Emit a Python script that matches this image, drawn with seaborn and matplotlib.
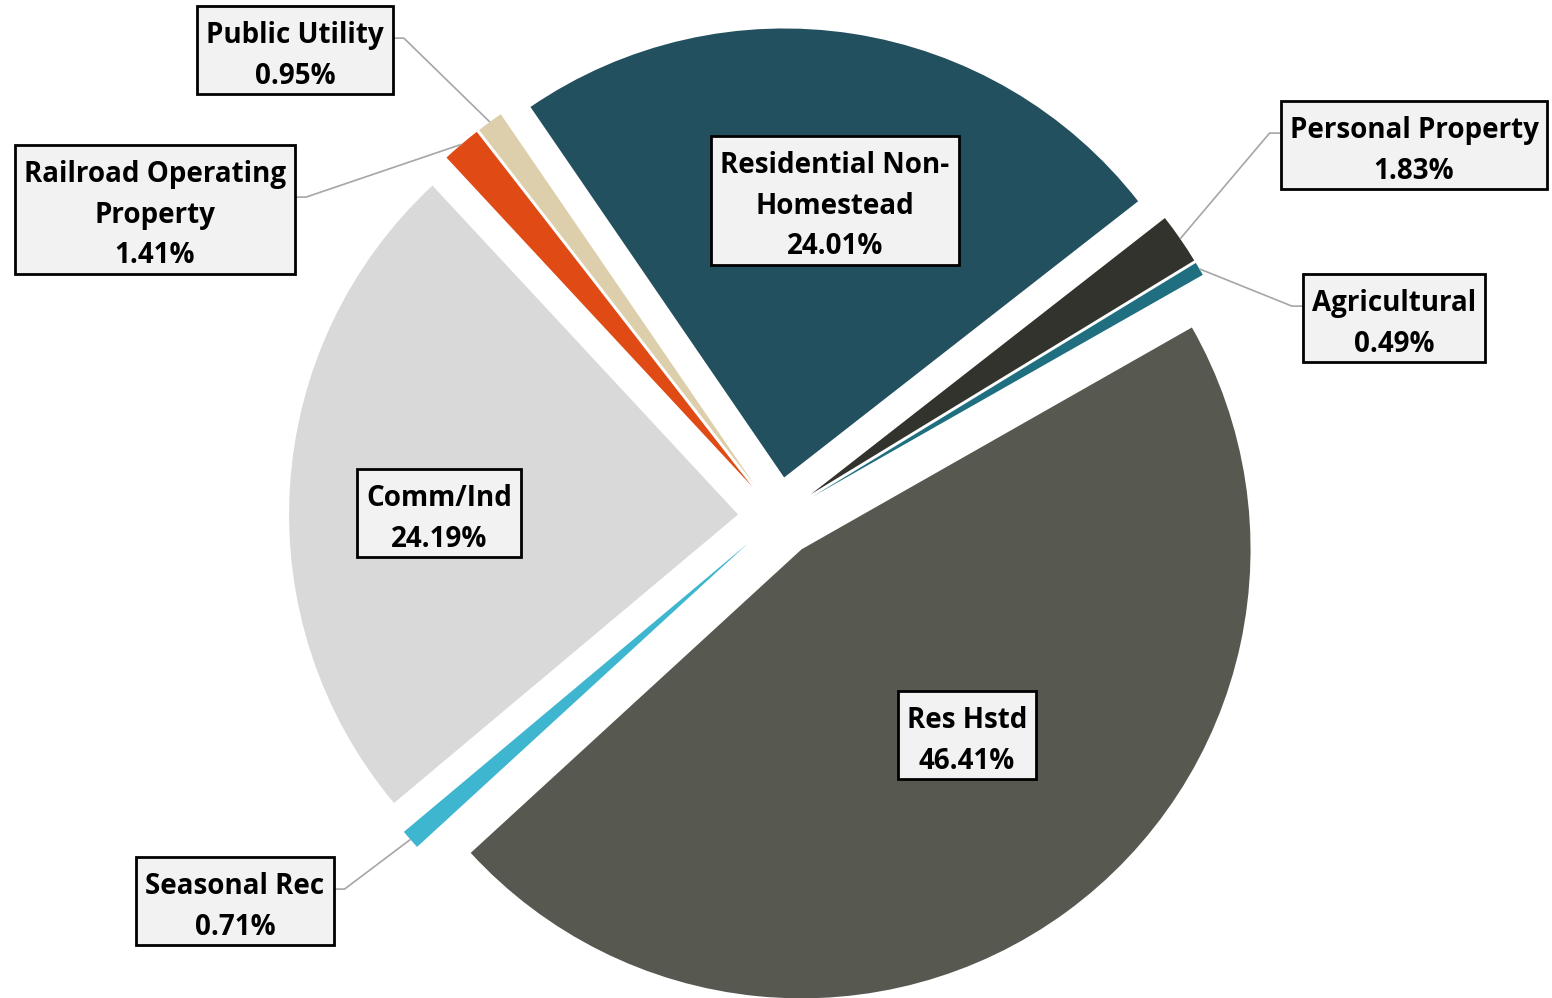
import numpy as np
import matplotlib
matplotlib.use("Agg")
import matplotlib.pyplot as plt
from matplotlib.patches import Rectangle
import seaborn as sns

# Share of tax capacity by property class (clockwise from the top)
categories = ["Residential Non-\nHomestead", "Personal Property", "Agricultural", "Res Hstd",
              "Seasonal Rec", "Comm/Ind", "Railroad Operating\nProperty", "Public Utility"]
shares = [24.01, 1.83, 0.49, 46.41, 0.71, 24.19, 1.41, 0.95]
colors = ["#22505F", "#32332D", "#1F6F80", "#575850",
          "#3FB6CF", "#D9D9D9", "#DF4A15", "#DDCFAB"]

sns.set_theme(style="white")
plt.rcParams["font.family"] = ["Open Sans", "DejaVu Sans"]

W, H = 1552, 998
CX, CY, R = 778, 517, 449          # pie centre and radius in pixels


def px(x, y):
    """Pixel position (origin top-left) -> pie data units."""
    return (x - CX) / R, (CY - y) / R


fig = plt.figure(figsize=(W / 100, H / 100), dpi=100)
ax = fig.add_axes([0, 0, 1, 1])
wedges, _ = ax.pie(shares, colors=colors, startangle=124.4, counterclock=False,
                   radius=1.0, center=(0, 0), explode=[40 / R] * len(shares),
                   wedgeprops=dict(linewidth=0))
x0, y0 = px(0, H)
x1, y1 = px(W, 0)
ax.set_xlim(x0, x1)
ax.set_ylim(y0, y1)
ax.set_aspect("equal")
ax.axis("off")

# label box centres (pixels) and which side carries a leader line
label_pos = [(835, 200), (1414, 145), (1394, 318), (967, 735),
             (235, 901), (439, 513), (155, 209), (295, 50)]
leader_side = [None, "left", "left", None, "right", None, "right", "right"]
leader_rise = 12                    # leader joins the box slightly above its middle

texts = []
for cat, val, (lx, ly) in zip(categories, shares, label_pos):
    t = ax.text(*px(lx, ly + 6), f"{cat}\n{val:.2f}%", ha="center", va="center",
                fontsize=20, fontweight="bold", color="black", linespacing=1.52,
                zorder=6)
    texts.append(t)

fig.canvas.draw()
renderer = fig.canvas.get_renderer()
inv = ax.transData.inverted()
boxes = []
for t in texts:
    bb = t.get_window_extent(renderer)
    (bx0, by0), (bx1, by1) = inv.transform([(bb.x0 - 9, bb.y0 - 3.6),
                                            (bb.x1 + 9, bb.y1 + 15.4)])
    ax.add_patch(Rectangle((bx0, by0), bx1 - bx0, by1 - by0, facecolor="#F2F2F2",
                           edgecolor="black", linewidth=2.0, zorder=5))
    boxes.append((bx0, by0, bx1, by1))

for w, (bx0, by0, bx1, by1), side in zip(wedges, boxes, leader_side):
    if side is None:
        continue
    ay = (by0 + by1) / 2 + leader_rise / R
    if side == "left":
        sx, ex = bx0, bx0 - 11 / R
    else:
        sx, ex = bx1, bx1 + 11 / R
    mid = np.deg2rad((w.theta1 + w.theta2) / 2)
    tx = w.center[0] + w.r * np.cos(mid)
    ty = w.center[1] + w.r * np.sin(mid)
    ax.plot([sx, ex, tx], [ay, ay, ty], color="#A6A6A6", lw=1.2, zorder=4,
            solid_capstyle="butt")

fig.savefig("out.png", dpi=100, facecolor="white")
